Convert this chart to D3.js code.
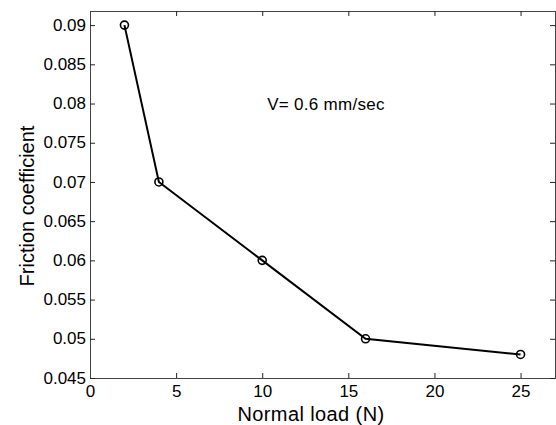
<!DOCTYPE html>
<html>
<head>
<meta charset="utf-8">
<script src="https://cdn.jsdelivr.net/npm/d3@7"></script>
<style>
  body { margin: 0; background: #fff; }
  text { font-family: "Liberation Sans", Arial, sans-serif; fill: #000; }
</style>
</head>
<body>
<div class="root"></div>
<script>
var loads = [2, 4, 10, 16, 25];
var friction = [0.09, 0.07, 0.06, 0.05, 0.048];
var xTicks = [0, 5, 10, 15, 20, 25];
var yTicks = [0.045, 0.05, 0.055, 0.06, 0.065, 0.07, 0.075, 0.08, 0.085, 0.09];

var W = 556, H = 425;
var m = {left: 90, top: 11, right: 1, bottom: 47};
var w = W - m.left - m.right, h = H - m.top - m.bottom;

var svg = d3.select('.root').append('svg')
  .attr('width', W)
  .attr('height', H);

var x = d3.scaleLinear().domain([0, 27]).range([0, w]);
var y = d3.scaleLinear().domain([0.045, 0.0918]).range([h, 0]);

var g = svg.append('g').attr('transform', 'translate(' + m.left + ',' + m.top + ')');

// axes, ticks pointing inward like matlab
var fmt = function(d) { return String(+d.toFixed(3)); };
var xb = g.append('g').attr('transform', 'translate(0,' + h + ')')
  .call(d3.axisBottom(x).tickValues(xTicks).tickSize(-5).tickPadding(8).tickFormat(fmt));
var xt = g.append('g')
  .call(d3.axisTop(x).tickValues(xTicks).tickSize(-5).tickFormat(''));
var yl = g.append('g')
  .call(d3.axisLeft(y).tickValues(yTicks).tickSize(-5).tickPadding(4).tickFormat(fmt));
var yr = g.append('g').attr('transform', 'translate(' + w + ',0)')
  .call(d3.axisRight(y).tickValues(yTicks).tickSize(-5).tickFormat(''));

[xb, xt, yl, yr].forEach(function(a) {
  a.select('.domain').attr('stroke', '#444').attr('stroke-width', 1);
  a.selectAll('.tick line').attr('stroke', '#222');
  a.selectAll('.tick text').style('font-size', '17px').attr('fill', '#000');
});
xb.selectAll('.tick text').attr('y', 19).attr('dy', 0);
yl.selectAll('.tick text').attr('dy', '0.3em');

var line = d3.line()
  .x(function(d, i) { return x(loads[i]); })
  .y(function(d) { return y(d); });

g.append('path')
  .datum(friction)
  .attr('d', line)
  .attr('fill', 'none')
  .attr('stroke', '#000')
  .attr('stroke-width', 2);

g.selectAll('.pt')
  .data(friction)
  .enter().append('circle')
    .attr('class', 'pt')
    .attr('cx', function(d, i) { return x(loads[i]); })
    .attr('cy', function(d) { return y(d); })
    .attr('r', 4)
    .attr('fill', 'none')
    .attr('stroke', '#000')
    .attr('stroke-width', 1.6);

g.append('text')
  .attr('x', 326 - m.left)
  .attr('y', 110 - m.top)
  .attr('text-anchor', 'middle')
  .style('font-size', '17px')
  .style('letter-spacing', '0.3px')
  .text('V= 0.6 mm/sec');

svg.append('text')
  .attr('x', 311)
  .attr('y', 421)
  .attr('text-anchor', 'middle')
  .style('font-size', '20px')
  .style('letter-spacing', '0.4px')
  .text('Normal load (N)');

svg.append('text')
  .attr('transform', 'translate(34,206) rotate(-90)')
  .attr('text-anchor', 'middle')
  .style('font-size', '20px')
  .text('Friction coefficient');
</script>
</body>
</html>
